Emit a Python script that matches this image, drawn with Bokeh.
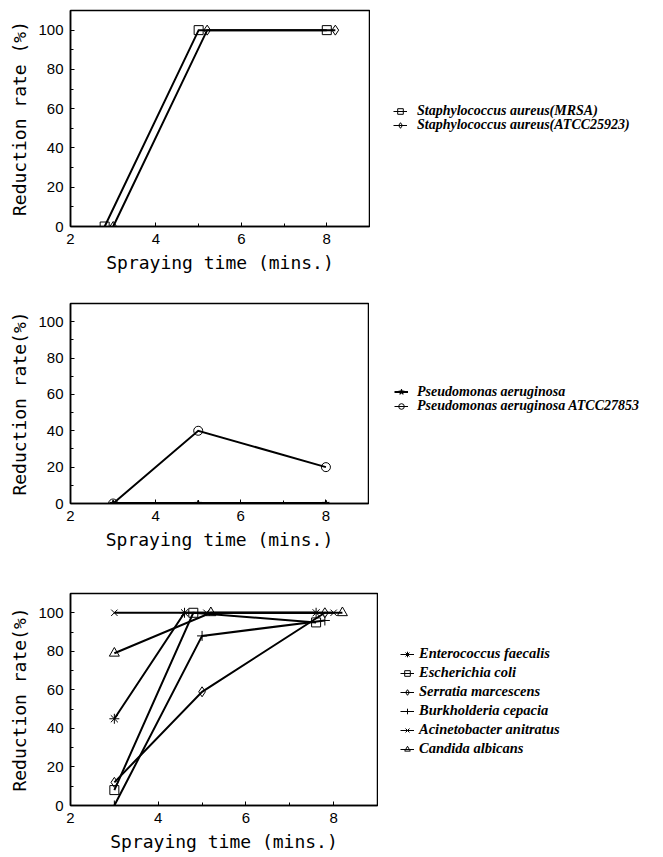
from bokeh.plotting import figure
from bokeh.models import Range1d, Legend, LegendItem, FixedTicker
from bokeh.layouts import column, row
from bokeh.embed import file_html
from bokeh.resources import INLINE

# ---------------- data ----------------
x_major_ticks = [2, 4, 6, 8]
x_minor_ticks = [3, 5, 7]
y_major_ticks = [0, 20, 40, 60, 80, 100]
y_minor_ticks = [10, 30, 50, 70, 90]
x_label = "Spraying time (mins.)"

# panel 1
mrsa_name = "Staphylococcus aureus(MRSA)"
mrsa_t = [2.8, 5.0, 8.0]
mrsa_r = [0, 100, 100]
atcc25923_name = "Staphylococcus aureus(ATCC25923)"
atcc25923_t = [3.0, 5.2, 8.2]
atcc25923_r = [0, 100, 100]

# panel 2
pa_name = "Pseudomonas aeruginosa"
pa_t = [3, 5, 8]
pa_r = [0, 0, 0]
atcc27853_name = "Pseudomonas aeruginosa ATCC27853"
atcc27853_t = [3, 5, 8]
atcc27853_r = [0, 40, 20]

# panel 3
ent_name = "Enterococcus faecalis"
ent_t = [3, 4.6, 7.6]
ent_r = [45, 100, 100]
eco_name = "Escherichia coli"
eco_t = [3, 4.8, 7.6]
eco_r = [8, 100, 95]
ser_name = "Serratia marcescens"
ser_t = [3, 5.0, 7.8]
ser_r = [12, 59, 100]
bur_name = "Burkholderia cepacia"
bur_t = [3, 5.0, 7.8]
bur_r = [0, 88, 96]
aci_name = "Acinetobacter anitratus"
aci_t = [3, 5.1, 8.0]
aci_r = [100, 100, 100]
can_name = "Candida albicans"
can_t = [3, 5.2, 8.2]
can_r = [79, 100, 100]

PAGE_W = 663
LEFT = 70


def make_legend(items, lx, ly, standoff, glyph_h, font_size, glyph_w=14):
    return Legend(items=items, location=(lx, ly), orientation="vertical",
                  border_line_color=None, background_fill_alpha=0,
                  padding=0, margin=0, spacing=0,
                  label_text_font="Liberation Serif",
                  label_text_font_style="bold italic",
                  label_text_font_size=font_size,
                  label_text_color="black",
                  glyph_width=glyph_w, glyph_height=glyph_h,
                  label_height=19, label_standoff=standoff)


def build(frame_w, frame_h, top, bottom, ylabel, series, lx, lys, standoff,
          glyph_hs, font_size, single=False):
    height = top + frame_h + bottom
    width = LEFT + frame_w + 1
    p = figure(width=width, height=height,
               x_range=Range1d(2, 9), y_range=Range1d(0, 110),
               output_backend="svg", toolbar_location=None,
               min_border_left=LEFT, min_border_right=1,
               min_border_top=top, min_border_bottom=bottom,
               background_fill_color="white", border_fill_color="white")
    p.xgrid.visible = False
    p.ygrid.visible = False
    p.outline_line_color = "black"
    p.outline_line_width = 1.5
    p.outline_line_alpha = 1.0

    p.xaxis.ticker = FixedTicker(ticks=x_major_ticks, minor_ticks=x_minor_ticks)
    p.yaxis.ticker = FixedTicker(ticks=y_major_ticks, minor_ticks=y_minor_ticks)
    p.xaxis.axis_label = x_label
    p.yaxis.axis_label = ylabel
    for ax in (p.xaxis[0], p.yaxis[0]):
        ax.axis_line_color = "black"
        ax.axis_line_width = 1.5
        ax.major_tick_in = 4
        ax.major_tick_out = 0
        ax.minor_tick_in = 3
        ax.minor_tick_out = 0
        ax.major_tick_line_color = "black"
        ax.minor_tick_line_color = "black"
        ax.major_label_text_font = "Liberation Sans"
        ax.major_label_text_font_size = "15px"
        ax.major_label_text_color = "black"
        ax.axis_label_text_font = "DejaVu Sans Mono"
        ax.axis_label_text_font_size = "18px"
        ax.axis_label_text_font_style = "normal"
        ax.axis_label_text_color = "black"
        ax.major_label_standoff = 7
        ax.axis_label_standoff = 5

    # legend lives in its own small figure next to the plot
    lw_ = PAGE_W - width
    lf = figure(width=lw_, height=height, x_range=Range1d(0, 1),
                y_range=Range1d(0, 1), output_backend="svg",
                toolbar_location=None, x_axis_location=None,
                y_axis_location=None, min_border=0,
                min_border_left=0, min_border_right=0,
                min_border_top=0, min_border_bottom=0,
                background_fill_color="white", border_fill_color="white")
    lf.outline_line_color = None
    lf.xgrid.visible = False
    lf.ygrid.visible = False

    items = []
    for name, xs, ys, marker, lw, filled, msize in series:
        fc = "black" if filled else None
        p.line(xs, ys, line_color="black", line_width=lw, line_join="miter")
        p.scatter(xs, ys, marker=marker, size=msize, line_color="black",
                  line_width=1, fill_color=fc)
        # legend-only renderers, placed outside the visible range
        ln = lf.line([5, 6], [5, 5], line_color="black",
                     line_width=2 if filled else 1)
        sc = lf.scatter([5], [5], marker=marker, size=msize, line_color="black",
                        line_width=1, fill_color=fc)
        items.append(LegendItem(label=name, renderers=[ln, sc]))

    if single:
        lf.add_layout(make_legend(items, lx, lys[0], standoff, glyph_hs[0],
                                  font_size))
    else:
        for it, ly, gh in zip(items, lys, glyph_hs):
            lf.add_layout(make_legend([it], lx, ly, standoff, gh, font_size))
    return row(p, lf, spacing=0)


r1 = build(299, 216, 10, 55, "Reduction rate (%)",
           [(mrsa_name, mrsa_t, mrsa_r, "square", 2, False, 9),
            (atcc25923_name, atcc25923_t, atcc25923_r, "diamond", 2, False, 10)],
           23, [106, 92], 10, [14, 14], "14px")
r2 = build(298, 200, 22, 55, "Reduction rate(%)",
           [(pa_name, pa_t, pa_r, "star", 3, True, 7),
            (atcc27853_name, atcc27853_t, atcc27853_r, "circle", 2, False, 9)],
           25, [102, 88], 9, [19, 14], "14px")
r3 = build(307, 212, 35, 52, "Reduction rate(%)",
           [(ent_name, ent_t, ent_r, "asterisk", 2, False, 10),
            (eco_name, eco_t, eco_r, "square", 2, False, 9),
            (ser_name, ser_t, ser_r, "diamond", 2, False, 10),
            (bur_name, bur_t, bur_r, "cross", 2, False, 10),
            (aci_name, aci_t, aci_r, "x", 2, False, 9),
            (can_name, can_t, can_r, "triangle", 2, False, 10)],
           22, [47], 5, [14], "14.5px", single=True)

layout = column(r1, r2, r3, spacing=0)
open("out.html", "w").write(file_html(layout, INLINE))
